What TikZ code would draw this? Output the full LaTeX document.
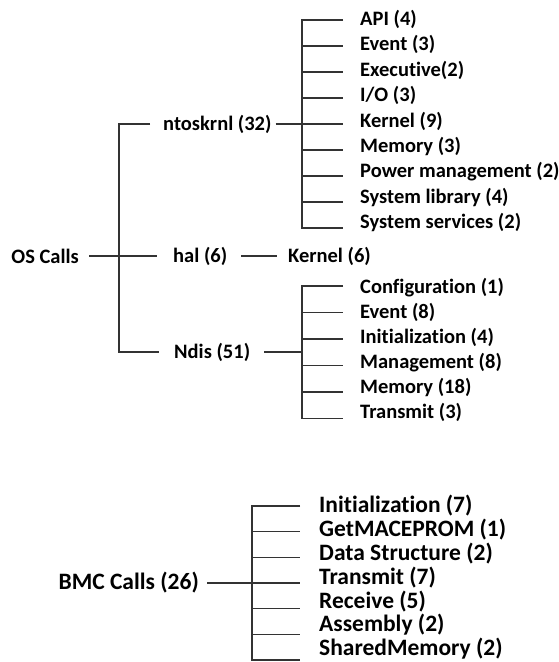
\documentclass[tikz,border=0pt]{standalone}
\usepackage{fontspec}
\setmainfont{Carlito}[Ligatures={NoCommon}]
\begin{document}
\begin{tikzpicture}[x=1pt,y=-1pt,
  lbl/.style={inner sep=0pt, text=black, font=\fontsize{20.5}{24}\selectfont\bfseries},
  biglbl/.style={lbl, font=\fontsize{23.5}{28}\selectfont\bfseries},
  wire/.style={line width=1.3pt, draw=black!80}]
\useasboundingbox[fill=white] (0,0) rectangle (559,662);

% ---- OS calls tree ----
\node[lbl, anchor=east] (os) at (79,256) {OS Calls};
\coordinate (tk) at (119,256);
\node[lbl, anchor=west] (nt) at (163,124) {ntoskrnl (32)};
\node[lbl, anchor=west] (hal) at (173,256) {hal (6)};
\node[lbl, anchor=west] (ndis) at (174,352) {Ndis (51)};
\node[lbl, anchor=west] (hk) at (288,256) {Kernel (6)};

\draw[wire] ([xshift=10pt]os.east) -- ([xshift=-16pt]hal.west);
\draw[wire] ([xshift=-13pt]nt.west) -- (nt.west -| tk) -- (ndis.west -| tk) -- ([xshift=-15pt]ndis.west);
\draw[wire] ([xshift=14pt]hal.east) -- ([xshift=-11pt]hk.west);

% ntoskrnl children: labels sit slightly above their stubs
\coordinate (ntk) at (302,124);
\foreach \t [count=\i from 0] in {API (4),Event (3),Executive(2),I/O (3),Kernel (9),Memory (3),Power management (2),System library (4),System services (2)}{
  \node[lbl, anchor=west] (n\i) at (360,20+26*\i-0.5-0.6*\i) {\t};
  \coordinate (ne\i) at (343,20+26*\i);
}
\draw[wire] (ne0) -- (ne0 -| ntk) -- (ne8 -| ntk) -- (ne8);
\foreach \i in {1,...,7}
  \draw[wire] (ne\i -| ntk) -- (ne\i);
\draw[wire] ([xshift=4pt]nt.east) -- (ntk);

% Ndis children
\coordinate (dtk) at (302,352);
\foreach \t [count=\i from 0] in {Configuration (1),Event (8),Initialization (4),Management (8),Memory (18),Transmit (3)}{
  \node[lbl, anchor=west] (d\i) at (360,286+26.5*\i+1.5-1.5*\i) {\t};
  \coordinate (de\i) at (343,286+26.5*\i);
}
\draw[wire] (de0) -- (de0 -| dtk) -- (de5 -| dtk) -- (de5);
\foreach \i in {1,...,4}
  \draw[wire] (de\i -| dtk) -- (de\i);
\draw[wire] ([xshift=14pt]ndis.east) -- (dtk);

% ---- BMC calls tree ----
\node[biglbl, anchor=east] (bmc) at (199,583) {BMC Calls (26)};
\coordinate (btk) at (252,583);
\foreach \t [count=\i from 0] in {Initialization (7),GetMACEPROM (1),Data Structure (2),Transmit (7),Receive (5),Assembly (2),SharedMemory (2)}{
  \node[biglbl, anchor=west] (b\i) at (319,506+25.67*\i-1.9*\i) {\t};
  \coordinate (be\i) at (300,506+25.67*\i);
}
\draw[wire] (be0) -- (be0 -| btk) -- (be6 -| btk) -- (be6);
\foreach \i in {1,...,5}
  \draw[wire] (be\i -| btk) -- (be\i);
\draw[wire] ([xshift=8pt]bmc.east) -- (btk);
\end{tikzpicture}
\end{document}
